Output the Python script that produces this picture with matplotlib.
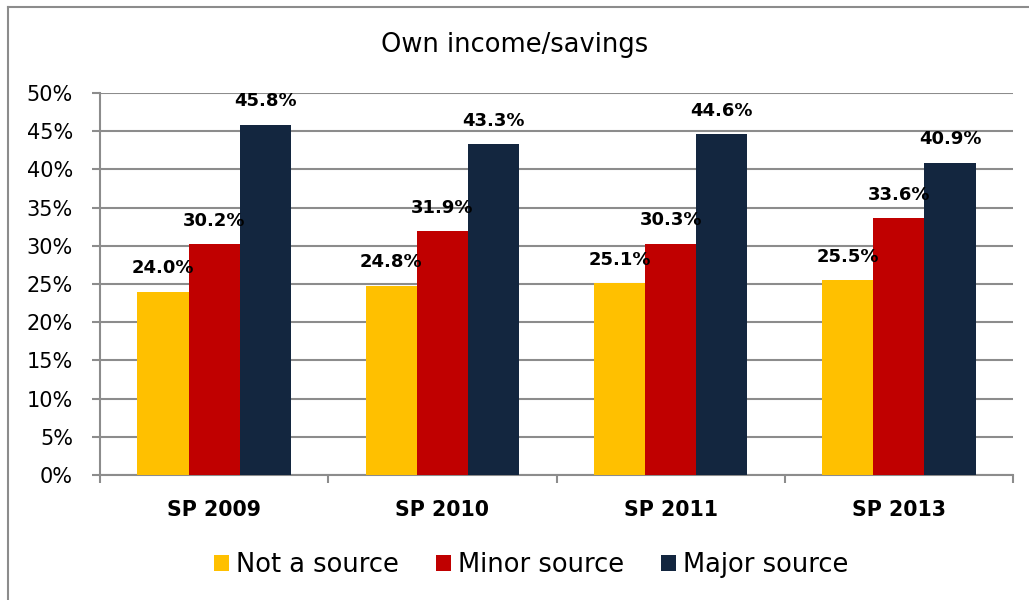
import numpy as np
import matplotlib.pyplot as plt
from matplotlib.lines import Line2D

# Survey waves and share of respondents per answer
waves = ['SP 2009', 'SP 2010', 'SP 2011', 'SP 2013']
not_a_source = [24.0, 24.8, 25.1, 25.5]
minor_source = [30.2, 31.9, 30.3, 33.6]
major_source = [45.8, 43.3, 44.6, 40.9]

series = [
    ('Not a source', not_a_source, '#FFC000'),
    ('Minor source', minor_source, '#C00000'),
    ('Major source', major_source, '#13263F'),
]

plt.rcParams['font.family'] = ['DejaVu Sans']

fig = plt.figure(figsize=(10.29, 6.0), dpi=100)
ax = fig.add_axes([100 / 1029, 1 - 475 / 600, 913 / 1029, 382 / 600])

x = np.arange(len(waves))
bar_w = 0.224
grid_c = '#8C8C8C'

for i, (name, vals, color) in enumerate(series):
    pos = x + (i - 1) * bar_w
    ax.bar(pos, vals, width=bar_w, color=color, label=name, zorder=3)
    for px, v in zip(pos, vals):
        ax.annotate(f'{v:.1f}%', (px, v), xytext=(0, 17), textcoords='offset points',
                    ha='center', va='center', fontsize=13, fontweight='bold',
                    color='black', zorder=4)

ax.set_xlim(-0.5, len(waves) - 0.5)
ax.set_ylim(0, 50)
ax.set_yticks(np.arange(0, 51, 5))
ax.set_yticklabels([f'{t}%' for t in range(0, 51, 5)], fontsize=15)
ax.yaxis.grid(True, color=grid_c, linewidth=1.5, zorder=0)

# Category boundaries carry the x tick marks
ax.set_xticks(np.arange(-0.5, len(waves), 1.0))
ax.set_xticklabels([])
ax.set_xticks(x, minor=True)
ax.set_xticklabels(waves, minor=True, fontsize=14.8, fontweight='bold')
ax.tick_params(axis='x', which='major', length=6, width=1.5, color=grid_c, direction='out')
ax.tick_params(axis='x', which='minor', length=0, pad=18)
ax.tick_params(axis='y', length=6, width=1.5, color=grid_c, pad=13.5)

for side in ['top', 'right']:
    ax.spines[side].set_visible(False)
for side in ['left', 'bottom']:
    ax.spines[side].set_color(grid_c)
    ax.spines[side].set_linewidth(1.5)

fig.text(0.5, 1 - 45 / 600, 'Own income/savings', ha='center', va='center', fontsize=18.5)

leg = fig.legend(loc='center', bbox_to_anchor=(531 / 1029, 1 - 565 / 600), ncol=3, frameon=False,
                 fontsize=18.5, handlelength=0.6, handleheight=0.6, handletextpad=0.25,
                 columnspacing=1.45)

# Chart frame (top and left edges)
fig.add_artist(Line2D([8 / 1029, 1.0], [1 - 7 / 600, 1 - 7 / 600], color=grid_c, linewidth=1.5))
fig.add_artist(Line2D([8 / 1029, 8 / 1029], [0.0, 1 - 7 / 600], color=grid_c, linewidth=1.5))

fig.savefig('out.png', dpi=100)
